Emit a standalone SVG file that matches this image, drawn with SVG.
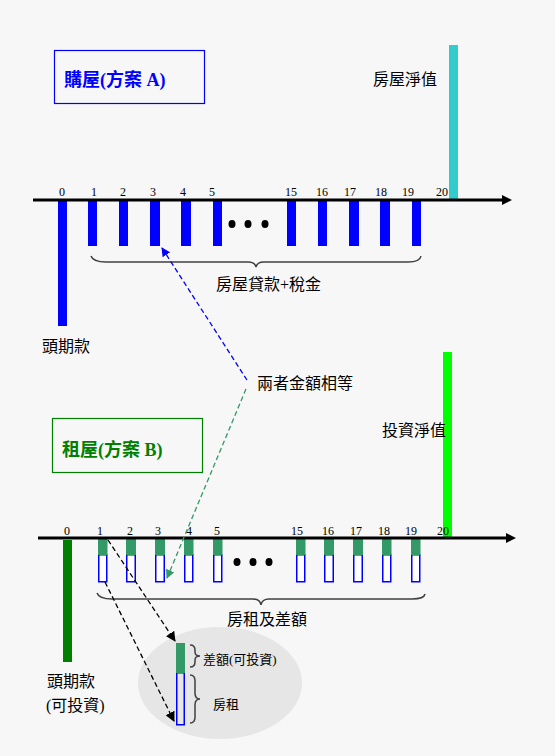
<svg xmlns="http://www.w3.org/2000/svg" width="555" height="756" viewBox="0 0 555 756">
<style>
.num{font-family:"Liberation Serif","Times New Roman",serif;font-size:12px;fill:#000;text-anchor:middle}
.cjk{font-family:"Liberation Serif","Noto Sans CJK TC",serif;font-size:16px;fill:#000}
.sm{font-size:13px}
.title{font-family:"Liberation Serif","Noto Sans CJK TC",serif;font-size:18px;font-weight:bold}
.pay{fill:#0000ff}
.gtop{fill:#339966}
.rent{fill:#ffffff;stroke:#0000ff;stroke-width:1.5}
.brace{fill:none;stroke:#404040;stroke-width:1.5}
.axis{stroke:#000;stroke-width:3}
.dash{fill:none;stroke-width:1.3;stroke-dasharray:5,3}
</style>
<defs>
<marker id="mb" viewBox="0 0 10 10" refX="9" refY="5" markerWidth="9" markerHeight="9" markerUnits="userSpaceOnUse" orient="auto"><path d="M0,0 L10,5 L0,10 z" fill="#0000ff"/></marker>
<marker id="mg" viewBox="0 0 10 10" refX="9" refY="5" markerWidth="9" markerHeight="9" markerUnits="userSpaceOnUse" orient="auto"><path d="M0,0 L10,5 L0,10 z" fill="#339966"/></marker>
<marker id="mk" viewBox="0 0 10 10" refX="9" refY="5" markerWidth="10" markerHeight="10" markerUnits="userSpaceOnUse" orient="auto"><path d="M0,0 L10,5 L0,10 z" fill="#000"/></marker>
</defs>
<rect x="0" y="0" width="555" height="756" fill="#f7f7f7"/>

<g id="planA">
<rect x="54.5" y="50.5" width="150" height="53" fill="none" stroke="#0000ff" stroke-width="1.2"/>
<text class="title" x="64" y="86" fill="#0000ff">購屋(方案 A)</text>
</g>

<g id="barsA">
<rect class="pay" x="58" y="201" width="9" height="125"/>
<rect class="pay" x="88" y="201" width="9" height="45"/>
<rect class="pay" x="119" y="201" width="9" height="45"/>
<rect class="pay" x="150" y="201" width="10" height="45"/>
<rect class="pay" x="181" y="201" width="10" height="45"/>
<rect class="pay" x="213" y="201" width="9" height="45"/>
<rect class="pay" x="287" y="201" width="9" height="45"/>
<rect class="pay" x="318" y="201" width="9" height="45"/>
<rect class="pay" x="349" y="201" width="10" height="45"/>
<rect class="pay" x="380" y="201" width="10" height="45"/>
<rect class="pay" x="412" y="201" width="9" height="45"/>
<rect x="449" y="45" width="9" height="154" fill="#33cccc"/>
<ellipse cx="232" cy="224" rx="3.5" ry="4" fill="#000"/>
<ellipse cx="248" cy="224" rx="3.5" ry="4" fill="#000"/>
<ellipse cx="265" cy="224" rx="3.5" ry="4" fill="#000"/>
<path class="brace" d="M91,256 Q93,262 106,262 L248,262 Q255,262 256,267 Q257,262 264,262 L408,262 Q420,262 421,256"/>
</g>

<g id="axisA">
<line class="axis" x1="33" y1="200" x2="504" y2="200"/>
<path d="M502,195 L512,200 L502,205 z" fill="#000"/>
<text class="num" x="62" y="196">0</text>
<text class="num" x="94" y="196">1</text>
<text class="num" x="123" y="196">2</text>
<text class="num" x="153" y="196">3</text>
<text class="num" x="183" y="196">4</text>
<text class="num" x="212" y="196">5</text>
<text class="num" x="291" y="196">15</text>
<text class="num" x="322" y="196">16</text>
<text class="num" x="350" y="196">17</text>
<text class="num" x="381" y="196">18</text>
<text class="num" x="408" y="196">19</text>
<text class="num" x="442" y="196">20</text>
</g>

<g id="labelsA">
<text class="cjk" x="373" y="85">房屋淨值</text>
<text class="cjk" x="216" y="290">房屋貸款+稅金</text>
<text class="cjk" x="42" y="352">頭期款</text>
<text class="cjk" x="257" y="389">兩者金額相等</text>
</g>

<g id="planB">
<rect x="52.5" y="418.5" width="150" height="54" fill="none" stroke="#008000" stroke-width="1.2"/>
<text class="title" x="62" y="456" fill="#008000">租屋(方案 B)</text>
</g>

<g id="barsB">
<rect x="63" y="540" width="9" height="122" fill="#008000"/>
<rect x="443" y="352" width="9" height="185" fill="#00ff00"/>
<g>
<rect class="rent" x="98.75" y="554.75" width="8" height="27"/><rect class="gtop" x="98" y="539" width="9.5" height="16"/>
<rect class="rent" x="126.75" y="554.75" width="8.5" height="27"/><rect class="gtop" x="126" y="539" width="10" height="16"/>
<rect class="rent" x="155.75" y="554.75" width="8.5" height="27"/><rect class="gtop" x="155" y="539" width="10" height="16"/>
<rect class="rent" x="184.75" y="554.75" width="8" height="27"/><rect class="gtop" x="184" y="539" width="9.5" height="16"/>
<rect class="rent" x="213.75" y="554.75" width="8" height="27"/><rect class="gtop" x="213" y="539" width="9.5" height="16"/>
<rect class="rent" x="296.75" y="554.75" width="8" height="27"/><rect class="gtop" x="296" y="539" width="9.5" height="16"/>
<rect class="rent" x="324.75" y="554.75" width="8.5" height="27"/><rect class="gtop" x="324" y="539" width="10" height="16"/>
<rect class="rent" x="353.75" y="554.75" width="8.5" height="27"/><rect class="gtop" x="353" y="539" width="10" height="16"/>
<rect class="rent" x="382.75" y="554.75" width="8" height="27"/><rect class="gtop" x="382" y="539" width="9.5" height="16"/>
<rect class="rent" x="411.75" y="554.75" width="8" height="27"/><rect class="gtop" x="411" y="539" width="9.5" height="16"/>
</g>
<ellipse cx="237" cy="562" rx="3.5" ry="4" fill="#000"/>
<ellipse cx="253" cy="562" rx="3.5" ry="4" fill="#000"/>
<ellipse cx="269" cy="562" rx="3.5" ry="4" fill="#000"/>
<path class="brace" d="M97,593 Q99,599 112,599 L253,599 Q260,599 261,605 Q262,599 269,599 L412,599 Q424,599 425,594"/>
</g>

<g id="axisB">
<line class="axis" x1="38" y1="538" x2="508" y2="538"/>
<path d="M506,533 L516,538 L506,543 z" fill="#000"/>
<text class="num" x="67" y="535">0</text>
<text class="num" x="100" y="535">1</text>
<text class="num" x="130" y="535">2</text>
<text class="num" x="158" y="535">3</text>
<text class="num" x="189" y="535">4</text>
<text class="num" x="217" y="535">5</text>
<text class="num" x="297" y="535">15</text>
<text class="num" x="328" y="535">16</text>
<text class="num" x="356" y="535">17</text>
<text class="num" x="384" y="535">18</text>
<text class="num" x="411" y="535">19</text>
<text class="num" x="443" y="535">20</text>
</g>

<g id="labelsB">
<text class="cjk" x="382" y="436">投資淨值</text>
<text class="cjk" x="227" y="625">房租及差額</text>
<text class="cjk" x="47" y="687">頭期款</text>
<text class="cjk" x="46" y="711">(可投資)</text>
</g>

<g id="detail">
<ellipse cx="220" cy="683" rx="82" ry="56" fill="#e6e6e6"/>
<rect x="176.75" y="672.75" width="7.5" height="52" fill="none" stroke="#0000ff" stroke-width="1.5"/>
<rect x="176" y="643" width="9" height="30" fill="#339966"/>
<path class="brace" d="M190,645 Q195,645 195,650 L195,652 Q195,656 200,656 Q195,656 195,660 L195,662 Q195,667 190,667"/>
<path class="brace" d="M190,675 Q195,675 195,681 L195,693 Q195,699 200,699 Q195,699 195,705 L195,717 Q195,723 190,723"/>
<text class="cjk sm" x="203" y="664">差額(可投資)</text>
<text class="cjk sm" x="213" y="709">房租</text>
</g>

<g id="connectors">
<line class="dash" x1="247" y1="380" x2="162" y2="248" stroke="#0000ff" marker-end="url(#mb)"/>
<line class="dash" x1="246" y1="389" x2="167" y2="578" stroke="#339966" marker-end="url(#mg)"/>
<line class="dash" x1="108" y1="540" x2="175" y2="641" stroke="#000" marker-end="url(#mk)"/>
<line class="dash" x1="105" y1="582" x2="174" y2="721" stroke="#000" marker-end="url(#mk)"/>
</g>
</svg>
